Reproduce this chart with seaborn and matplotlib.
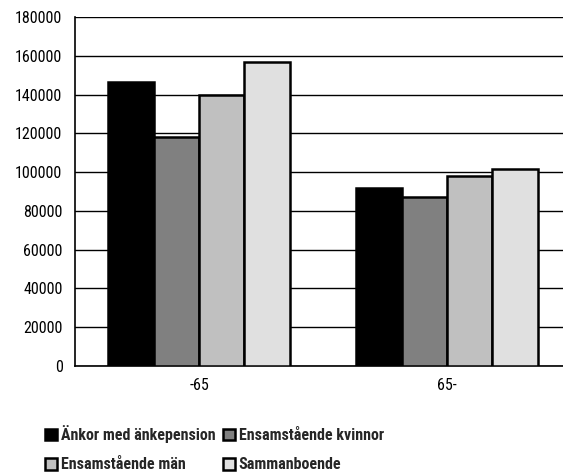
import matplotlib
matplotlib.use("Agg")
import matplotlib.pyplot as plt
import seaborn as sns
import pandas as pd
from matplotlib.ticker import FixedLocator

# Age groups on the x axis
groups = ["-65", "65-"]
# Household types (hue)
series = ["Änkor med änkepension", "Ensamstående kvinnor", "Ensamstående män", "Sammanboende"]
# Income per household type, one value per age group
ankor = [146500, 92000]
kvinnor = [118000, 87000]
man = [140000, 98000]
sammanboende = [157000, 101500]
yticks = [0, 20000, 40000, 60000, 80000, 100000, 120000, 140000, 160000, 180000]

colors = ["#000000", "#808080", "#c0c0c0", "#e0e0e0"]

rows = []
for name, vals in zip(series, [ankor, kvinnor, man, sammanboende]):
    for g, v in zip(groups, vals):
        rows.append({"grupp": g, "typ": name, "inkomst": v})
df = pd.DataFrame(rows)

sns.set_theme(style="white")
plt.rcParams["font.family"] = ["Roboto Condensed", "DejaVu Sans"]

fig = plt.figure(figsize=(5.63, 4.72), dpi=100)
ax = fig.add_axes([75 / 563, 1 - 366 / 472, 496 / 563, 349 / 472])

sns.barplot(data=df, x="grupp", y="inkomst", hue="typ", order=groups, hue_order=series,
            palette=colors, width=0.73, edgecolor="black", linewidth=1.8,
            saturation=1, ax=ax, zorder=3)

ax.set_ylim(0, 180000)
ax.set_xlim(-0.5, 1.5)
ax.set_yticks(yticks)
ax.set_yticklabels([str(t) for t in yticks])
ax.set_xlabel("")
ax.set_ylabel("")

ax.yaxis.grid(True, color="black", linewidth=1.0, zorder=0)
ax.set_axisbelow(True)

for side in ["top", "right"]:
    ax.spines[side].set_visible(False)
for side in ["left", "bottom"]:
    ax.spines[side].set_color("black")
    ax.spines[side].set_linewidth(1.2)

ax.tick_params(axis="y", direction="in", length=3, width=1, color="black",
               labelsize=11.5, pad=9, labelcolor="black")
ax.tick_params(axis="x", which="major", length=0, labelsize=11.5, pad=9, labelcolor="black")
ax.xaxis.set_minor_locator(FixedLocator([-0.5, 0.5, 1.5]))
ax.tick_params(axis="x", which="minor", direction="inout", length=9, width=1.2, color="#555555")

# Legend laid out row by row: two household types per line
handles, labels = ax.get_legend_handles_labels()
order = [0, 2, 1, 3]
ax.get_legend().remove()
fig.legend([handles[i] for i in order], [labels[i] for i in order],
           loc="upper left", bbox_to_anchor=(45 / 563, 1 - 425 / 472), ncol=2,
           frameon=False, handlelength=0.75, handleheight=0.75, handletextpad=0.25,
           columnspacing=0.45, labelspacing=0.9, borderpad=0, borderaxespad=0,
           prop={"family": ["Roboto Condensed", "DejaVu Sans"], "weight": "bold", "size": 11.5})

fig.savefig("out.png", dpi=100)
